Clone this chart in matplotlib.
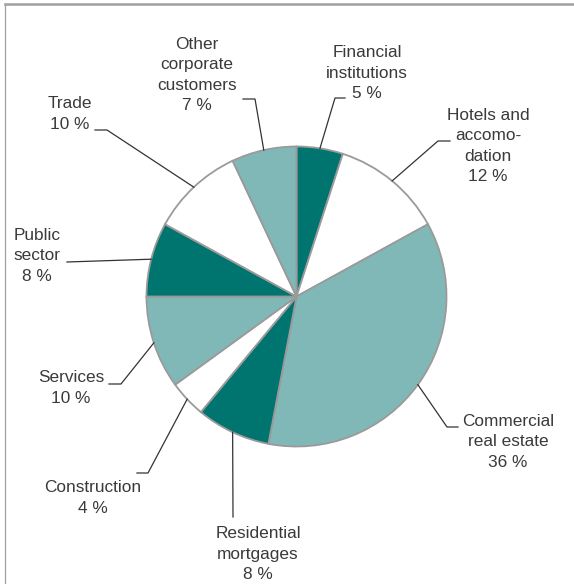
import numpy as np
import matplotlib
matplotlib.use("Agg")
import matplotlib.pyplot as plt
from matplotlib.lines import Line2D

# Loan book split by segment, clockwise from 12 o'clock
sectors = [
    "Financial\ninstitutions",
    "Hotels and\naccomo-\ndation",
    "Commercial\nreal estate",
    "Residential\nmortgages",
    "Construction",
    "Services",
    "Public\nsector",
    "Trade",
    "Other\ncorporate\ncustomers",
]
shares = [5, 12, 36, 8, 4, 10, 8, 10, 7]

DARK = "#00746F"
LIGHT = "#80B8B8"
WHITE = "#FFFFFF"
fills = [DARK, WHITE, LIGHT, DARK, WHITE, LIGHT, DARK, WHITE, LIGHT]

W, H = 574, 584
fig = plt.figure(figsize=(W / 100, H / 100), dpi=100)
ax = fig.add_axes([0, 0, 1, 1])


def px(x, y):
    """Pixel position (from top-left) to axes data coordinates."""
    return x, H - y


cx, cy = px(296.5, 296.5)
R = 150

wedges, _ = ax.pie(
    shares,
    colors=fills,
    startangle=90,
    counterclock=False,
    center=(cx, cy),
    radius=R,
    wedgeprops=dict(edgecolor="#9A9A9A", linewidth=1.3),
    frame=True,
)
ax.set_xlim(0, W)
ax.set_ylim(0, H)
ax.set_aspect("equal")
ax.axis("off")

# label layout: text centre, leader elbow, leader end (pixels from top-left)
layout = [
    ((367, 73), (335, 98), (345, 98)),
    ((488, 146), (438, 141), (450, 141)),
    ((508, 442), (447, 427), (458, 427)),
    ((258, 554), (233, 517), (233, 517)),
    ((93, 498), (148, 473), (137, 473)),
    ((71, 388), (121, 384), (109, 384)),
    ((37, 256), (67, 262), (67, 262)),
    ((70, 114), (107, 130), (95, 130)),
    ((197, 75), (255, 99), (243, 99)),
]

txt_color = "#3A3A3A"
for w, name, val, (tpos, elbow, end) in zip(wedges, sectors, shares, layout):
    mid = np.deg2rad((w.theta1 + w.theta2) / 2)
    ex, ey = cx + R * np.cos(mid), cy + R * np.sin(mid)
    bx, by = px(*elbow)
    qx, qy = px(*end)
    ax.add_line(Line2D([ex, bx, qx], [ey, by, qy], color="#333333", lw=0.9))
    tx, ty = px(*tpos)
    ax.text(tx, ty, f"{name}\n{val} %", ha="center", va="center",
            multialignment="center", fontsize=12.4, family="Liberation Sans",
            color=txt_color, linespacing=1.42)

# panel frame: rule along the top, thin line down the left side
fig.add_artist(Line2D([5 / W, 1], [1 - 4 / H, 1 - 4 / H], transform=fig.transFigure,
                      color="#A0A0A0", lw=1.8))
fig.add_artist(Line2D([5 / W, 5 / W], [0, 1 - 4 / H], transform=fig.transFigure,
                      color="#A0A0A0", lw=0.9))

fig.savefig("out.png", dpi=100, facecolor="white")
